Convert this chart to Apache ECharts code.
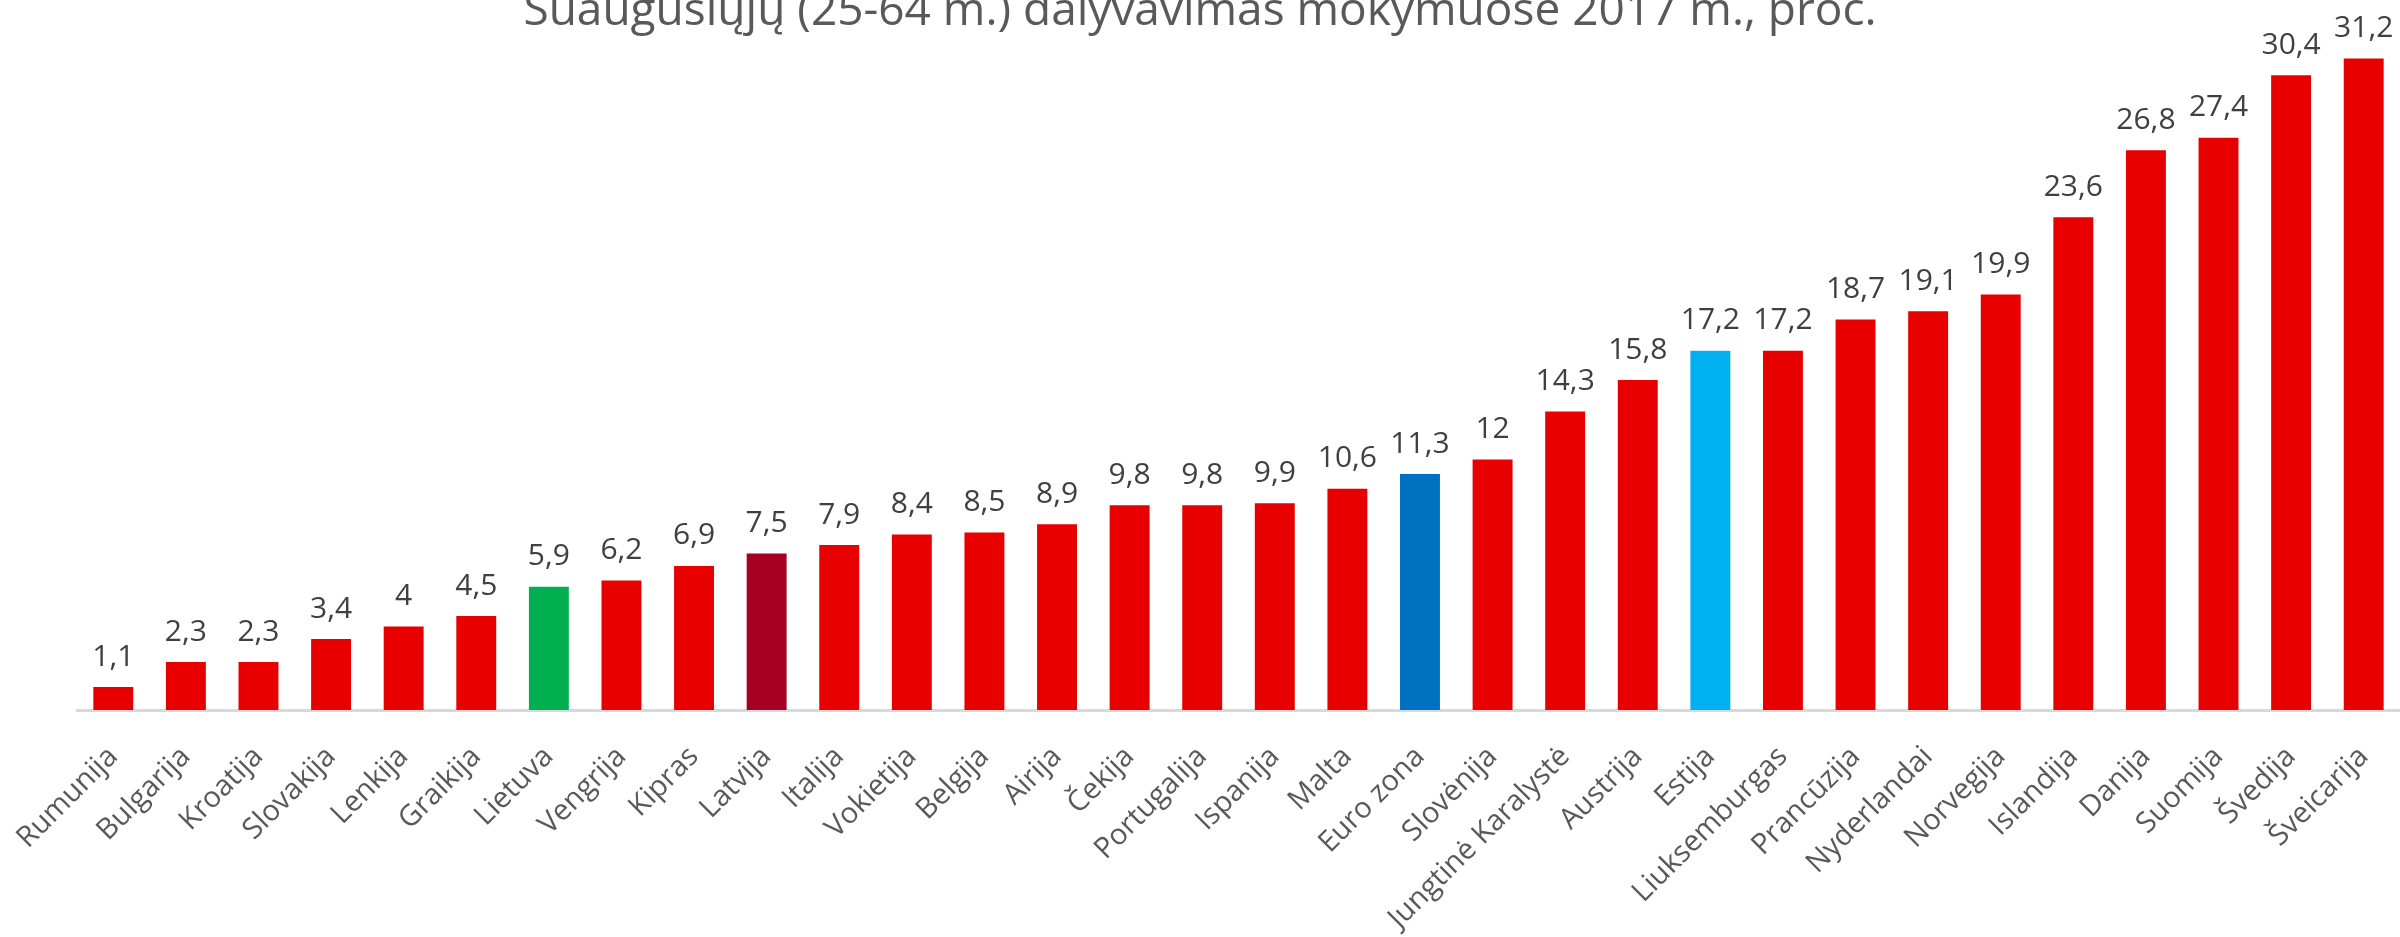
<!DOCTYPE html>
<html>
<head>
<meta charset="utf-8">
<script src="https://cdn.jsdelivr.net/npm/echarts@6/dist/echarts.min.js"></script>
<style>
  html, body { margin: 0; padding: 0; background: #fff; }
  #chart { width: 2400px; height: 937px; }
</style>
</head>
<body>
<div id="chart"></div>
<script>
const countries = ['Rumunija', 'Bulgarija', 'Kroatija', 'Slovakija', 'Lenkija', 'Graikija', 'Lietuva', 'Vengrija',
  'Kipras', 'Latvija', 'Italija', 'Vokietija', 'Belgija', 'Airija', 'Čekija', 'Portugalija', 'Ispanija', 'Malta',
  'Euro zona', 'Slovėnija', 'Jungtinė Karalystė', 'Austrija', 'Estija', 'Liuksemburgas', 'Prancūzija',
  'Nyderlandai', 'Norvegija', 'Islandija', 'Danija', 'Suomija', 'Švedija', 'Šveicarija'];
const values = [1.1, 2.3, 2.3, 3.4, 4, 4.5, 5.9, 6.2, 6.9, 7.5, 7.9, 8.4, 8.5, 8.9, 9.8, 9.8, 9.9, 10.6,
  11.3, 12, 14.3, 15.8, 17.2, 17.2, 18.7, 19.1, 19.9, 23.6, 26.8, 27.4, 30.4, 31.2];

// išskirtos šalys
const baseColor = '#E80000';
const highlight = {
  'Lietuva': '#00B050',
  'Latvija': '#A50021',
  'Euro zona': '#0070C0',
  'Estija': '#00B0F0'
};

const chart = echarts.init(document.getElementById('chart'));
chart.setOption({
  animation: false,
  title: {
    text: 'Suaugusiųjų (25-64 m.) dalyvavimas mokymuose 2017 m., proc.',
    left: 'center',
    top: -16,
    textStyle: { fontFamily: 'Open Sans', fontWeight: 'normal', fontSize: 46, color: '#595959' }
  },
  grid: { left: 77, right: 0, top: -1, bottom: 227 },
  xAxis: {
    type: 'category',
    data: countries,
    axisLine: { lineStyle: { color: '#d9d9d9', width: 3 } },
    axisTick: { show: false },
    axisLabel: {
      interval: 0,
      rotate: 45,
      margin: 42,
      fontFamily: 'Open Sans',
      fontSize: 29,
      color: '#595959'
    }
  },
  yAxis: {
    type: 'value',
    min: 0,
    max: 34,
    show: false
  },
  series: [{
    type: 'bar',
    barCategoryGap: '45%',
    data: values.map((v, i) => ({
      value: v,
      itemStyle: { color: highlight[countries[i]] || baseColor }
    })),
    label: {
      show: true,
      position: 'top',
      distance: 15,
      fontFamily: 'Open Sans',
      fontSize: 30,
      color: '#404040',
      formatter: p => String(p.value).replace('.', ',')
    }
  }]
});
</script>
</body>
</html>
